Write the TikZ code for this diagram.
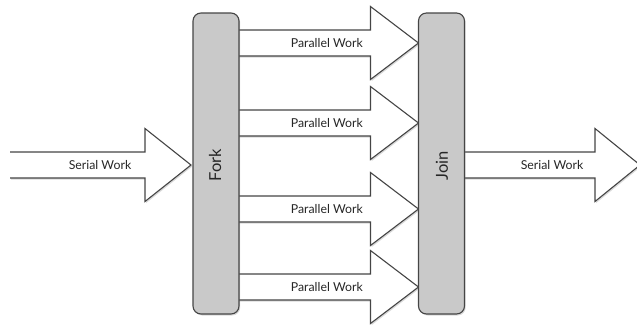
\documentclass[tikz,border=0pt]{standalone}
\usepackage{fontspec}
\setmainfont{Lato}
\usetikzlibrary{calc,shadows}

\definecolor{edge}{HTML}{454545}
\definecolor{barfill}{HTML}{C9C9C9}

\tikzset{
  bar/.style={draw=edge, line width=1.1pt, fill=barfill, rounded corners=8pt,
    minimum width=46pt, minimum height=301pt, inner sep=0pt,
    drop shadow={shadow xshift=1.2pt, shadow yshift=-1.5pt, opacity=.3}},
  barlabel/.style={rotate=90, font=\fontsize{16.5}{18}\selectfont, text=black!85},
  worklabel/.style={font=\fontsize{12.3}{13}\selectfont, text=black!85, inner sep=0pt},
  arrowfill/.style={fill=white,
    drop shadow={shadow xshift=1.2pt, shadow yshift=-1.5pt, opacity=.3}},
  arrowline/.style={draw=edge, line width=1.1pt, line join=miter},
}

% block arrow from #1 to #2: shaft half-width 13, head half-width 36.5, head length #3
\newcommand\blockarrow[3]{%
  \fill[arrowfill] ($(#1)+(0,-13)$) -- ($(#2)+(-#3,-13)$) -- ($(#2)+(-#3,-36.5)$)
    -- (#2) -- ($(#2)+(-#3,36.5)$) -- ($(#2)+(-#3,13)$) -- ($(#1)+(0,13)$) -- cycle;
  \draw[arrowline] ($(#1)+(0,-13)$) -- ($(#2)+(-#3,-13)$) -- ($(#2)+(-#3,-36.5)$)
    -- (#2) -- ($(#2)+(-#3,36.5)$) -- ($(#2)+(-#3,13)$) -- ($(#1)+(0,13)$);
}

\begin{document}
\begin{tikzpicture}[x=1pt, y=-1pt]
  \useasboundingbox (0,0) rectangle (637,325);

  % centres of the fork and join bars
  \path (216,163.5) coordinate (forkc) (441.5,163.5) coordinate (joinc);

  % serial work coming in
  \coordinate (inS) at (10,165);
  \coordinate (inT) at (191,165);
  \blockarrow{inS}{inT}{46}

  % parallel branches
  \foreach \y [count=\i] in {43,123,209,287} {
    \coordinate (p\i s) at (235,\y);
    \coordinate (p\i t) at (418.5,\y);
    \blockarrow{p\i s}{p\i t}{48}
  }

  % serial work going out
  \coordinate (outS) at (460,165);
  \coordinate (outT) at (640,165);
  \blockarrow{outS}{outT}{45}

  % fork and join bars
  \node[bar] (fork) at (forkc) {};
  \node[bar] (join) at (joinc) {};
  \node[barlabel] (forklbl) at (215,165) {Fork};
  \node[barlabel] (joinlbl) at (442,166) {Join};

  % labels
  \node[worklabel] (sin) at (100,165) {Serial Work};
  \node[worklabel] (sout) at (552,165) {Serial Work};
  \foreach \y [count=\i] in {43,123,209,287} {
    \node[worklabel, anchor=east] (pw\i) at (363,\y) {Parallel Work};
  }
\end{tikzpicture}
\end{document}
